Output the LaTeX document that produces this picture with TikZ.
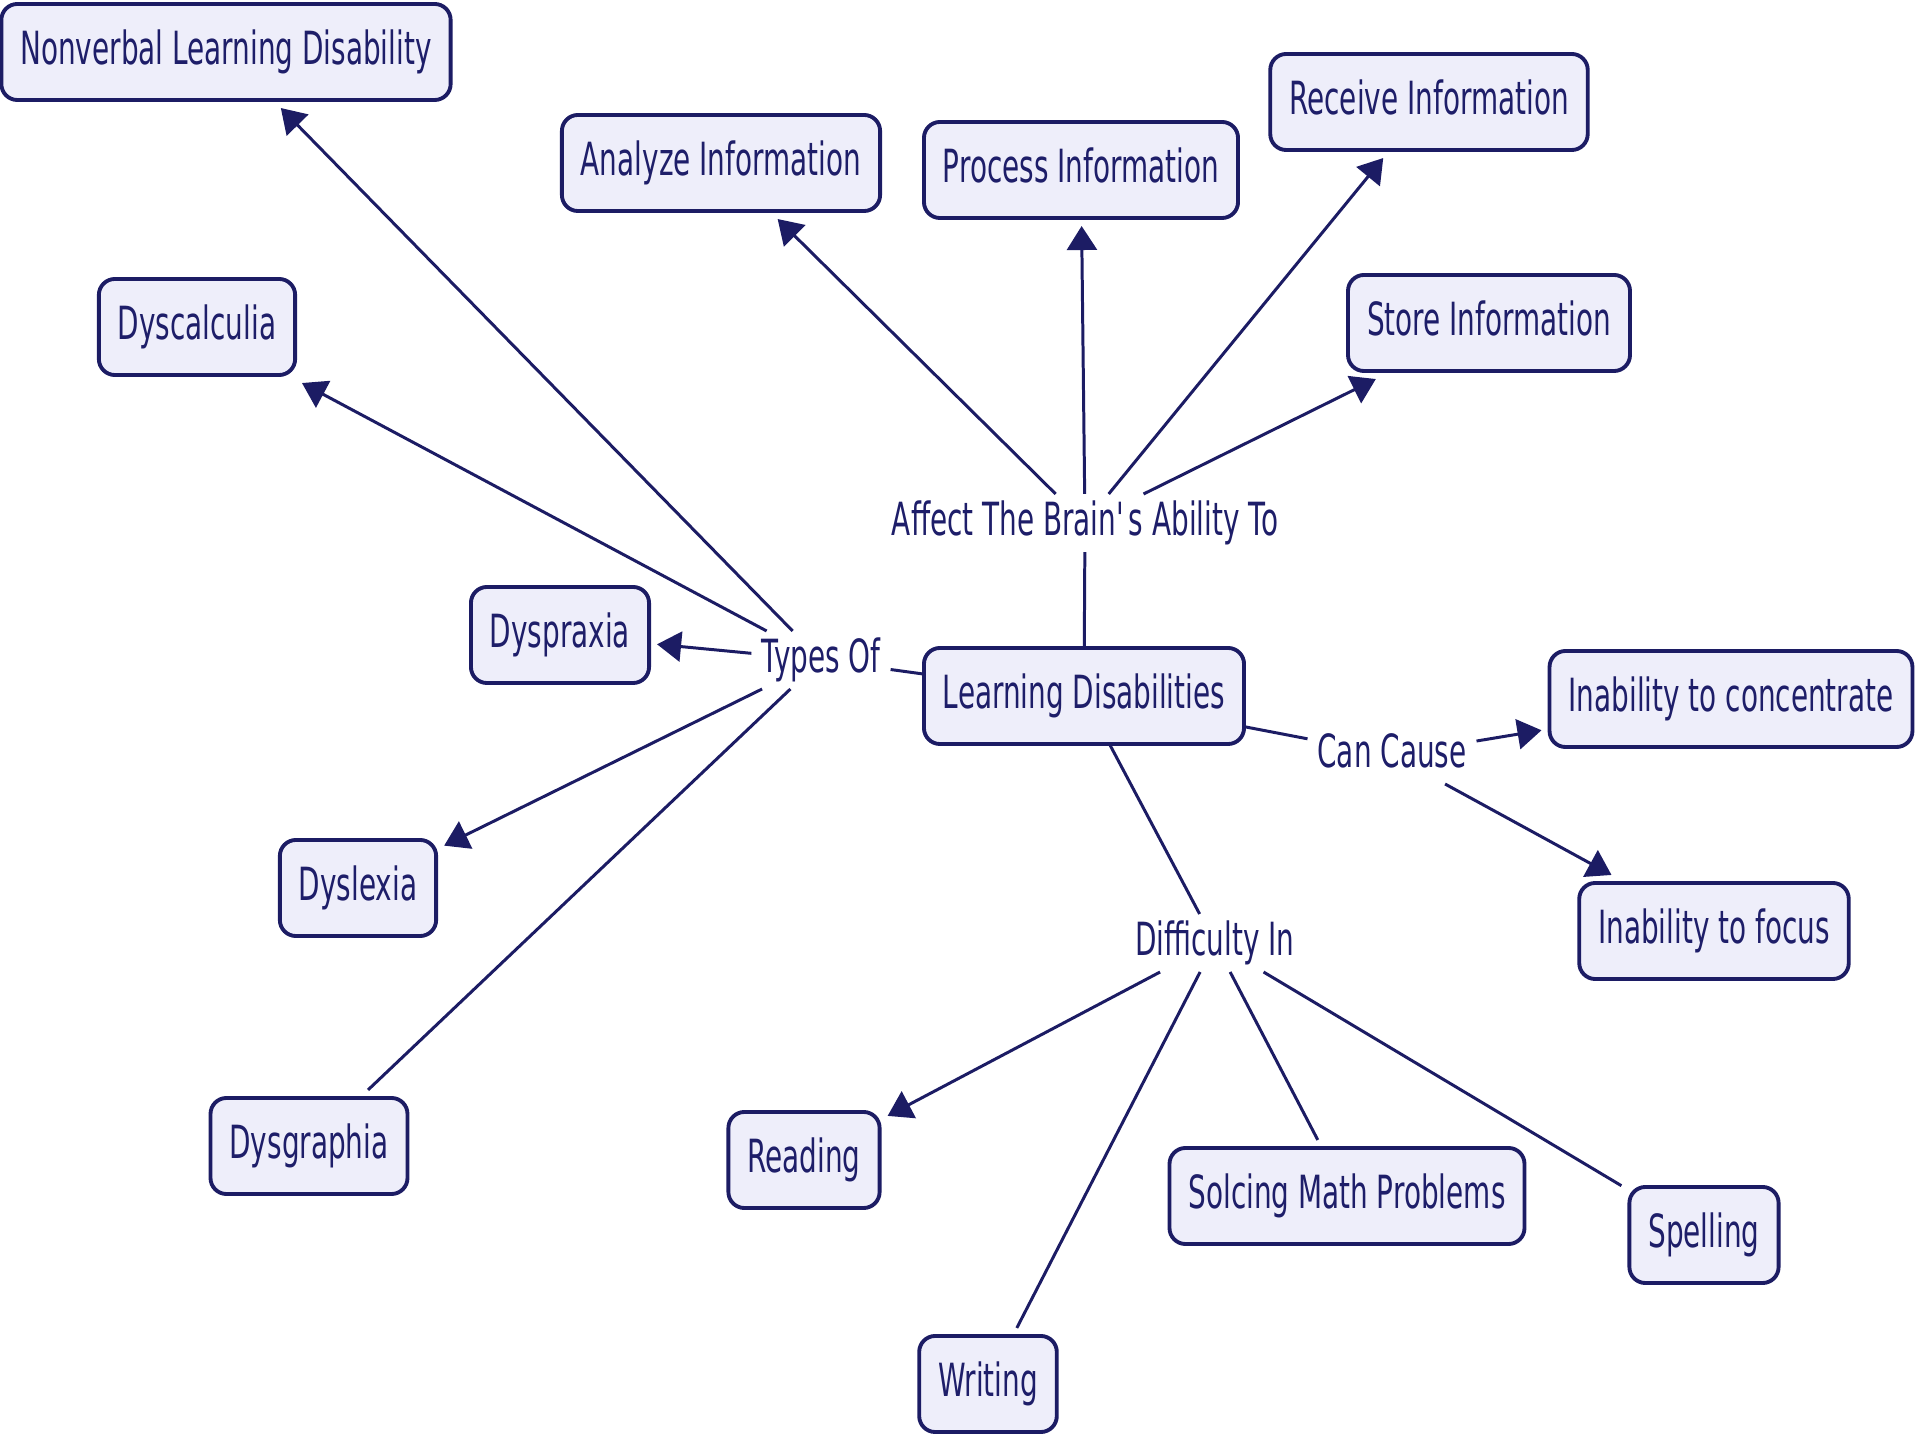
\documentclass[tikz,border=0pt]{standalone}
\usepackage{fontspec}
\setmainfont[FakeStretch=0.61]{DejaVu Sans}
\usetikzlibrary{arrows.meta}
\definecolor{navy}{RGB}{28,28,100}
\definecolor{boxfill}{RGB}{238,238,250}
\definecolor{txt}{RGB}{30,30,105}
\tikzset{
  concept/.style={draw=navy, line width=1.1pt, fill=boxfill, rounded corners=0.16cm,
    text=txt, minimum height=0.96cm, inner xsep=0.19cm, inner ysep=0cm,
    text height=0.35cm, text depth=0.1cm, outer sep=0.08cm},
  linkph/.style={text=txt, inner xsep=0.1cm, inner ysep=0.06cm,
    text height=0.35cm, text depth=0.11cm, outer sep=0pt},
  conn/.style={draw=navy, line width=0.85pt},
  arr/.style={conn, -{Triangle[length=0.24cm, width=0.3cm]}},
}
\begin{document}
\begin{tikzpicture}[x=0.01cm, y=-0.01cm, font=\fontsize{13pt}{15pt}\selectfont]
\useasboundingbox (0,0) rectangle (1920,1440);
% concepts
\node[concept] (nld)   at (226,52)   {Nonverbal Learning Disability};
\node[concept] (ana)   at (721,163)  {Analyze Information};
\node[concept] (pro)   at (1081,170) {Process Information};
\node[concept] (rec)   at (1429,102) {Receive Information};
\node[concept] (sto)   at (1489,323) {Store Information};
\node[concept] (dysc)  at (197,327)  {Dyscalculia};
\node[concept] (dyspr) at (560,635)  {Dyspraxia};
\node[concept, outer sep=0pt] (ld) at (1084,696) {Learning Disabilities};
\node[concept] (conc)  at (1731,699) {Inability to concentrate};
\node[concept] (focus) at (1714,931) {Inability to focus};
\node[concept] (dysl)  at (358,888)  {Dyslexia};
\node[concept] (dysg)  at (309,1146) {Dysgraphia};
\node[concept] (read)  at (804,1160) {Reading};
\node[concept] (math)  at (1347,1196) {Solcing Math Problems};
\node[concept] (spell) at (1704,1235) {Spelling};
\node[concept] (writ)  at (988,1384) {Writing};
% linking phrases
\node[linkph] (affect) at (1085,523) {Affect The Brain\textquotesingle s Ability To};
\node[linkph] (types)  at (821,660)  {Types Of};
\node[linkph] (can)    at (1392,755) {Can Cause};
\node[linkph] (diff)   at (1215,943) {Difficulty In};
% connectors
\draw[conn] (ld) -- (affect);
\draw[arr] (affect) -- (ana);
\draw[arr] (affect) -- (pro);
\draw[arr] (affect) -- (rec);
\draw[arr] (affect) -- (sto);
\draw[conn] (ld) -- (types);
\draw[arr] (types) -- (nld);
\draw[arr] (types) -- (dysc);
\draw[arr] (types) -- (dyspr);
\draw[arr] (types) -- (dysl);
\draw[conn] (types) -- (dysg);
\draw[conn] (ld) -- (can);
\draw[arr] (can) -- (conc);
\draw[arr] (can) -- (focus);
\draw[conn] (ld) -- (diff);
\draw[arr] (diff) -- (read);
\draw[conn] (diff) -- (writ);
\draw[conn] (diff) -- (math);
\draw[conn] (diff) -- (spell);
\end{tikzpicture}
\end{document}
